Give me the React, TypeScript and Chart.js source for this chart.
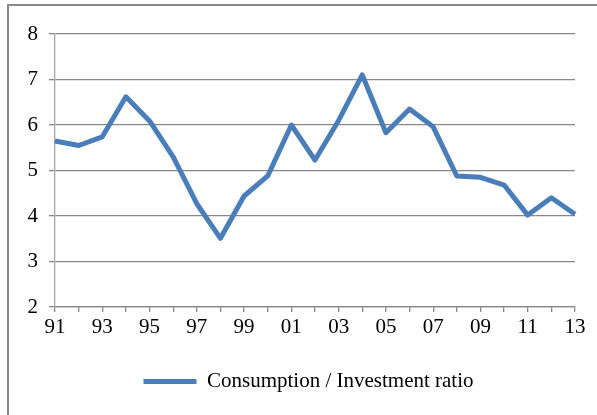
import React, { useEffect, useRef } from "react";
import { Chart, registerables } from "chart.js";

Chart.register(...registerables);

const years = ["91", "92", "93", "94", "95", "96", "97", "98", "99", "00", "01", "02", "03", "04", "05", "06", "07", "08", "09", "10", "11", "12", "13"];
const ratio = [5.65, 5.55, 5.74, 6.62, 6.09, 5.3, 4.27, 3.51, 4.44, 4.88, 6.0, 5.23, 6.1, 7.1, 5.83, 6.35, 5.96, 4.88, 4.85, 4.68, 4.02, 4.4, 4.04];
const seriesLabel = "Consumption / Investment ratio";
const yMin = 2;
const yMax = 8;

const FONT = { family: "'Liberation Serif', 'Times New Roman', serif", size: 21 };
const BLUE = "#4a7ebb";
const GRID = "#878787";

const shiftLegend = {
  id: "shiftLegend",
  afterLayout(chart: any) {
    const l = chart.legend;
    if (l) {
      l.left += 21;
      l.right += 21;
    }
  },
};

export default function App() {
  const ref = useRef<HTMLCanvasElement | null>(null);

  useEffect(() => {
    if (!ref.current) return;
    const chart = new Chart(ref.current, {
      type: "line",
      data: {
        labels: years,
        datasets: [
          {
            label: seriesLabel,
            data: ratio,
            borderColor: BLUE,
            backgroundColor: BLUE,
            borderWidth: 5,
            pointRadius: 0,
            tension: 0,
            borderJoinStyle: "round",
            fill: false,
          },
        ],
      },
      plugins: [shiftLegend],
      options: {
        responsive: false,
        animation: false,
        layout: { padding: { top: 34, left: 0, right: 22, bottom: 13 } },
        plugins: {
          tooltip: { enabled: false },
          title: { display: false },
          legend: {
            display: true,
            position: "bottom",
            labels: {
              font: FONT,
              color: "#000",
              boxWidth: 53,
              boxHeight: 5,
              padding: 10,
              generateLabels: (c: any) =>
                c.data.datasets.map((d: any, i: number) => ({
                  text: d.label,
                  fillStyle: BLUE,
                  strokeStyle: BLUE,
                  lineWidth: 0,
                  datasetIndex: i,
                  fontColor: "#000",
                })),
            },
          },
        },
        scales: {
          x: {
            type: "category",
            offset: false,
            grid: {
              drawOnChartArea: false,
              drawTicks: true,
              tickLength: 5,
              color: GRID,
              lineWidth: 1.3,
            },
            border: { color: GRID, width: 1.3 },
            ticks: {
              autoSkip: false,
              maxRotation: 0,
              minRotation: 0,
              padding: 3,
              color: "#000",
              font: FONT,
              callback: (_v: any, i: number) => (i % 2 === 0 ? years[i] : ""),
            },
            afterFit: (s: any) => {
              s.height = 54;
            },
          },
          y: {
            min: yMin,
            max: yMax,
            grid: { color: GRID, lineWidth: 1.3, tickLength: 6 },
            border: { color: "#a6a6a6", width: 1.3 },
            ticks: { stepSize: 1, color: "#000", font: FONT, padding: 11 },
            afterFit: (s: any) => {
              s.width = 55;
            },
          },
        },
      },
    });
    return () => chart.destroy();
  }, []);

  return (
    <div style={{ position: "fixed", left: 0, top: 0, width: 597, height: 415, background: "#fff", overflow: "hidden" }}>
      <div
        style={{
          position: "absolute",
          left: 7,
          top: 4,
          width: 620,
          height: 430,
          borderLeft: "2px solid #8a8a8a",
          borderTop: "2px solid #8a8a8a",
          boxSizing: "border-box",
        }}
      />
      <canvas ref={ref} width={597} height={415} style={{ position: "absolute", left: 0, top: 0 }} />
    </div>
  );
}
